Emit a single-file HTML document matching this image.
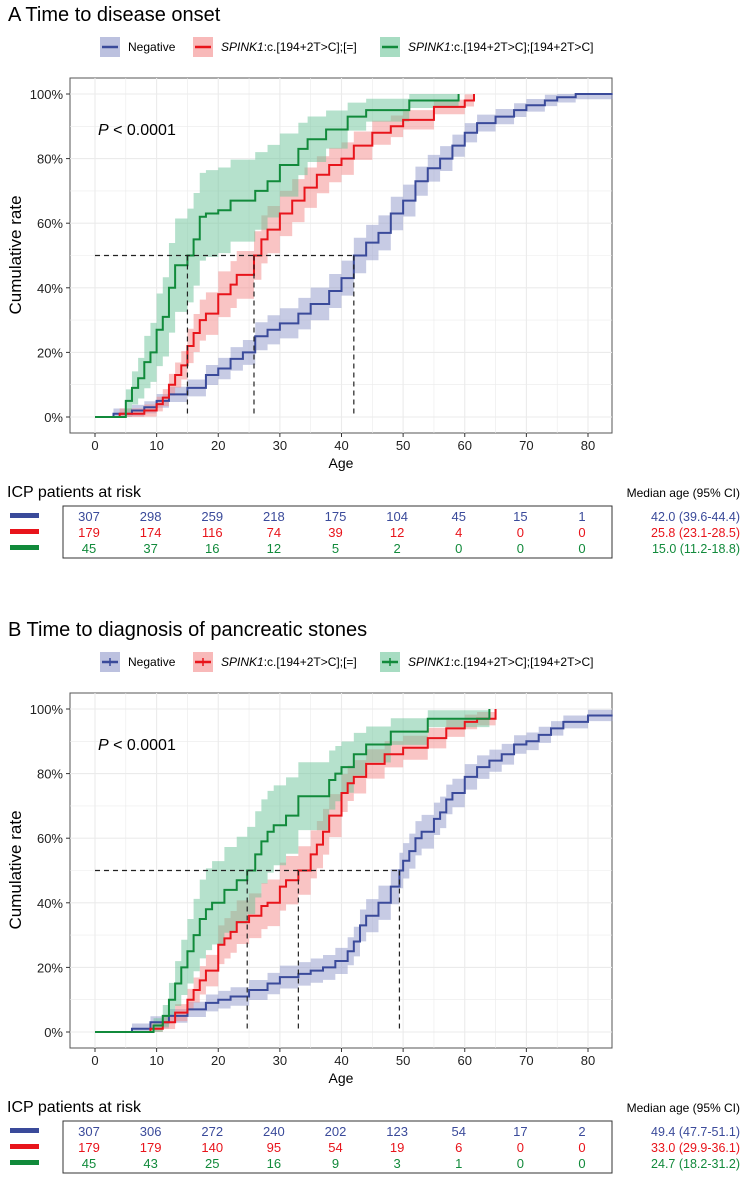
<!DOCTYPE html>
<html><head><meta charset="utf-8"><style>
body{margin:0;background:#fff;}
svg text{font-family:"Liberation Sans",sans-serif;}
</style></head><body>
<svg id="c" width="744" height="1181" xmlns="http://www.w3.org/2000/svg"></svg>
<script>
const ticksX=[0,10,20,30,40,50,60,70,80];
const ticksY=[0,20,40,60,80,100];
const colors=["#3a4a9a","#e8141b","#118a3b"];
const fills=["#8f97c9","#f48a8a","#6cc49a"];
const legendLabels=["Negative","c.[194+2T>C];[=]","c.[194+2T>C];[194+2T>C]"];
// Panel A step data [age, cumulative %]
const aNegT=[0,3,6,8,10,12,15,18,20,22,24,26,28,30,33,35,38,40,42,44,46,48,50,52,54,56,58,60,62,65,68,70,73,75,78,84];
const aNegV=[0,1,2,3,5,7,9,13,15,18,20,25,27,29,32,35,39,43,50,54,57,63,67,73,77,80,84,88,91,93,95,96.5,98,99,100,100];
const aRedT=[0,4,8,10,11,12,13,14,15,16,17,18,20,22,23,25.8,27,28,30,32,34,36,38,40,42,45,48,50,55,60,61.5];
const aRedV=[0,1,2,4,6,10,13,16,22,26,30,32,38,41,44,50,55,58,63,67,71,75,78,80,84,88,90,92,96,98,100];
const aGrnT=[0,5,6,7,8,9,10,11,12,13,15,16,17,18,20,22,26,28,30,33,34.5,37.5,41,44,51,59];
const aGrnV=[0,5,9,12,17,20,27,31,40,47,50,55,62,63,64,67,70,73,78,83,86,89,93,95,98,100];
// Panel B
const bNegT=[0,6,9,12,15,18,20,22,25,28,30,33,35,37,39,41,42,43,44,46,48,49.4,50,51,52,53,55,56,57,58,60,62,64,66,68,70,72,74,76,80,84];
const bNegV=[0,1,3,5,7,9,10,11,13,15,17,18,19,20,22,25,28,33,36,40,45,50,53,56,60,62,66,68,72,74,79,82,84,86,89,90,92,94,96,98,98];
const bRedT=[0,9,11,13,15,16,17,18,20,21,22,23,25,27,28,30,31,33,35,36,37,38,40,41,42,44,47,50,54,57,60,62,65];
const bRedV=[0,1,3,6,10,13,16,19,27,29,31,34,36,39,40,45,47,50,55,58,62,67,74,77,79,83,86,88,91,94,96,97,100];
const bGrnT=[0,9.5,11,12,13,14,15,16,17,18,19,21,23,24.7,26,27,28,29,31,33,38,39,40,42,44,48,54,64];
const bGrnV=[0,2,5,10,15,20,25,30,35,38,40,44,47,50,55,59,62,64,67,73,78,80,82,86,89,93,97,100];
const ciA=[4,6,13];
const ciB=[4,6,12];
const medA=[15,25.8,42];
const medB=[24.7,33,49.4];
const riskA=[[307,298,259,218,175,104,45,15,1],[179,174,116,74,39,12,4,0,0],[45,37,16,12,5,2,0,0,0]];
const riskB=[[307,306,272,240,202,123,54,17,2],[179,179,140,95,54,19,6,0,0],[45,43,25,16,9,3,1,0,0]];
const medTxtA=["42.0 (39.6-44.4)","25.8 (23.1-28.5)","15.0 (11.2-18.8)"];
const medTxtB=["49.4 (47.7-51.1)","33.0 (29.9-36.1)","24.7 (18.2-31.2)"];

const svg=document.getElementById('c');
const NS="http://www.w3.org/2000/svg";
function mk(tag,at,parent){const e=document.createElementNS(NS,tag);for(const k in at)e.setAttribute(k,at[k]);(parent||svg).appendChild(e);return e;}
const X=v=>95+v*6.1625;

function panel(off,letter,title,series,ci,med,risk,medTxt,cross){
  const Y=v=>off+417-v*3.23;
  const g=mk('g',{});
  
  
  const t=mk('text',{x:8,y:off+21,'font-size':20},g);t.textContent=letter+"  "+title;
  
  const lx=[100,193,380];
  for(let i=0;i<3;i++){
    const le=mk('g',{},g);
    
    mk('rect',{x:lx[i],y:off+37,width:20,height:20,fill:fills[i],opacity:0.6},le);
    mk('line',{x1:lx[i]+2,x2:lx[i]+18,y1:off+47,y2:off+47,stroke:colors[i],'stroke-width':2.5},le);
    if(cross)mk('line',{x1:lx[i]+10,x2:lx[i]+10,y1:off+43,y2:off+51,stroke:colors[i],'stroke-width':1.5},le);
    const tx=mk('text',{x:lx[i]+28,y:off+51,'font-size':12},le);
    if(i==0)tx.textContent="Negative";
    else{const ts=mk('tspan',{'font-style':'italic'},tx);ts.textContent="SPINK1";const t2=mk('tspan',{},tx);t2.textContent=":"+legendLabels[i];}
  }
  const box=mk('rect',{x:70,y:off+78,width:542,height:355,fill:'#fff',stroke:'#555','stroke-width':1},g);
  
  for(let v=0;v<=80;v+=5)mk('line',{x1:X(v),x2:X(v),y1:off+78,y2:off+433,stroke:'#ebebeb','stroke-width':v%10?0.6:1.1},g);
  for(let v=0;v<=100;v+=10)mk('line',{x1:70,x2:612,y1:Y(v),y2:Y(v),stroke:'#ebebeb','stroke-width':v%20?0.6:1.1},g);
  series.forEach((s,i)=>{
    const T=s[0],V=s[1];let up="",lo="";
    for(let k=0;k<T.length;k++){
      const x0=X(T[k]),x1=X(k+1<T.length?T[k+1]:T[k]);
      const w=V[k]==0?0:ci[i]*Math.sin(Math.PI*Math.min(V[k],99)/100)+1.5;
      const u=Math.min(100,V[k]+w),l=Math.max(0,V[k]-w);
      up+=(k?"L":"M")+x0+","+Y(u)+"L"+x1+","+Y(u);
      lo=" L"+x1+","+Y(l)+" L"+x0+","+Y(l)+lo;
    }
    const b=mk('path',{d:up+lo+"Z",fill:fills[i],opacity:0.5},g);
    
  });
  series.forEach((s,i)=>{
    const T=s[0],V=s[1];let d="";
    for(let k=0;k<T.length;k++){d+=(k?"L"+X(T[k])+","+Y(V[k-1])+"L":"M")+X(T[k])+","+Y(V[k]);}
    const p=mk('path',{d:d,fill:'none',stroke:colors[i],'stroke-width':2},g);
    
  });
  const mx=Math.max(...med);
  mk('line',{x1:X(0),x2:X(mx),y1:Y(50),y2:Y(50),stroke:'#222','stroke-dasharray':'5,4','stroke-width':1.2},g);
  med.forEach(m=>mk('line',{x1:X(m),x2:X(m),y1:Y(50),y2:Y(0),stroke:'#222','stroke-dasharray':'5,4','stroke-width':1.2},g));
  const pt=mk('text',{x:98,y:off+135,'font-size':16},g);
  const pi=mk('tspan',{'font-style':'italic'},pt);pi.textContent="P";const pr=mk('tspan',{},pt);pr.textContent=" < 0.0001";
  
  ticksY.forEach(v=>{mk('line',{x1:66,x2:70,y1:Y(v),y2:Y(v),stroke:'#333'},g);
    const tt=mk('text',{x:63,y:Y(v)+5,'font-size':13,'text-anchor':'end',fill:'#222'},g);tt.textContent=v+"%";});
  ticksX.forEach(v=>{mk('line',{x1:X(v),x2:X(v),y1:off+433,y2:off+437,stroke:'#333'},g);
    const tt=mk('text',{x:X(v),y:off+450,'font-size':13,'text-anchor':'middle',fill:'#222'},g);tt.textContent=v;});
  const ax=mk('text',{x:341,y:off+468,'font-size':14,'text-anchor':'middle'},g);ax.textContent="Age";
  
  const ay=mk('text',{x:0,y:0,'font-size':17,'text-anchor':'middle',transform:`translate(21,${off+255}) rotate(-90)`},g);ay.textContent="Cumulative rate";
  
  const rh=mk('text',{x:7,y:off+497,'font-size':16},g);rh.textContent="ICP patients at risk";
  const mh=mk('text',{x:740,y:off+497,'font-size':12,'text-anchor':'end'},g);mh.textContent="Median age (95% CI)";
  const tb=mk('rect',{x:63,y:off+506,width:549,height:52,fill:'none',stroke:'#333'},g);
  
  risk.forEach((row,i)=>{
    const ry=off+516+i*16;
    mk('rect',{x:10,y:ry-3,width:29,height:5,fill:colors[i]},g);
    row.forEach((n,j)=>{const tt=mk('text',{x:X(ticksX[j])-6,y:ry+5,'font-size':13,'text-anchor':'middle',fill:colors[i]},g);tt.textContent=n;});
    const mt=mk('text',{x:740,y:ry+5,'font-size':12.5,'text-anchor':'end',fill:colors[i]},g);mt.textContent=medTxt[i];
  });
}
panel(0,"A","Time to disease onset",[[aNegT,aNegV],[aRedT,aRedV],[aGrnT,aGrnV]],ciA,medA,riskA,medTxtA,false);
panel(615,"B","Time to diagnosis of pancreatic stones",[[bNegT,bNegV],[bRedT,bRedV],[bGrnT,bGrnV]],ciB,medB,riskB,medTxtB,true);
</script>
</body></html>
